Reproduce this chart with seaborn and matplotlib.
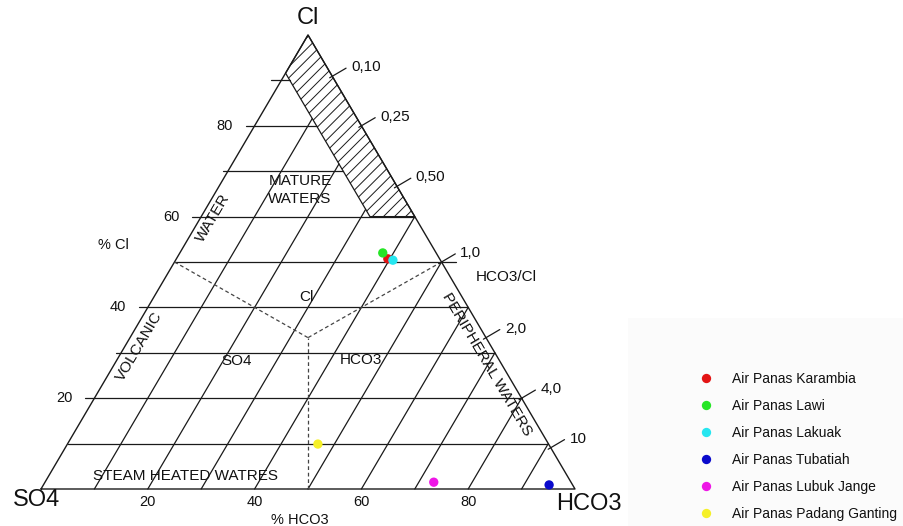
import matplotlib
matplotlib.use('Agg')
import matplotlib.pyplot as plt
from matplotlib.patches import Polygon, Rectangle
import numpy as np
import pandas as pd
import seaborn as sns

# hot springs, composition in % (Cl, SO4, HCO3)
springs = ['Air Panas Karambia', 'Air Panas Lawi', 'Air Panas Lakuak',
           'Air Panas Tubatiah', 'Air Panas Lubuk Jange', 'Air Panas Padang Ganting']
cl_pct = [50.7, 52.0, 50.4, 0.9, 1.5, 9.9]
so4_pct = [9.7, 10.0, 8.9, 4.4, 25.7, 43.2]
hco3_pct = [39.6, 38.0, 40.7, 94.7, 72.8, 46.9]
spring_colors = ['#e31414', '#26e626', '#26e6f0', '#0a0acc', '#ee16e6', '#f5f028']

grid_pct = [10, 20, 30, 40, 50, 60, 70, 80, 90]
axis_ticks = [20, 40, 60, 80]
ratio_values = [0.10, 0.25, 0.50, 1.0, 2.0, 4.0, 10.0]
ratio_labels = ['0,10', '0,25', '0,50', '1,0', '2,0', '4,0', '10']

PX_X = 534.0   # pixels per unit in x
PX_Y = 454.0   # pixels per unit in y
S_MATURE = 0.084  # SO4 fraction bounding the hatched band

LC = '#1a1a1a'
LW = 0.9


def to_xy(cl, hco3):
    cl = np.asarray(cl, dtype=float)
    hco3 = np.asarray(hco3, dtype=float)
    return hco3 + cl / 2.0, cl


sns.set_style('white')
plt.rcParams['font.family'] = ['Liberation Sans', 'DejaVu Sans']
plt.rcParams['text.color'] = '#111111'
plt.rcParams['hatch.linewidth'] = 0.7

fig = plt.figure(figsize=(9.04, 5.26), dpi=100)
ax = fig.add_axes([0, 0, 1, 1])
ax.set_xlim(-41 / PX_X, (904 - 41) / PX_X)
ax.set_ylim(-37 / PX_Y, (526 - 37) / PX_Y)
ax.axis('off')

# faint backdrop behind the legend (pasted panel in the original)
fig.patches.append(Rectangle((628 / 904, 0), 276 / 904, 208 / 526, transform=fig.transFigure,
                             facecolor='#fbfbfb', edgecolor='none', zorder=-1))

# triangle
tx, ty = to_xy([0, 0, 1, 0], [0, 1, 0, 0])
ax.plot(tx, ty, color=LC, lw=1.0)

# grid
tick_ext = {20: 9, 40: 9, 60: 9, 80: 9, 30: 5, 70: 5, 90: 10}
for p in grid_pct:
    f = p / 100
    # constant Cl
    h_end = 1 - f if f <= 0.6 else 1 - f - S_MATURE
    x0, _ = to_xy(f, 0)
    x1, _ = to_xy(f, h_end)
    if p == 50:
        x1 = x1 + 15 / PX_X
    ax.plot([x0 - tick_ext.get(p, 0) / PX_X, x1], [f, f], color=LC, lw=LW)
    # constant HCO3
    c_top = 1 - f - S_MATURE if 1 - f - S_MATURE >= 0.6 else 1 - f
    lx, ly = to_xy([0, c_top], [f, f])
    ax.plot(lx, ly, color=LC, lw=LW)

# hatched mature-water band
hx, hy = to_xy([1, 1 - S_MATURE, 0.6, 0.6], [0, 0, 0.4 - S_MATURE, 0.4])
ax.add_patch(Polygon(np.column_stack([hx, hy]), closed=True, fill=False,
                     hatch='///', edgecolor=LC, lw=LW))

# dashed field boundaries
cx, cy = to_xy(1 / 3, 1 / 3)
for c_a, h_a in [(0.5, 0.0), (0.5, 0.5), (0.0, 0.5)]:
    ax_, ay_ = to_xy(c_a, h_a)
    ax.plot([ax_, cx], [ay_, cy], color='#444444', lw=0.9, dashes=(3, 2.2))

# left axis labels
for t in axis_ticks:
    x0, y0 = to_xy(t / 100, 0)
    ax.text(x0 - 22 / PX_X, y0, str(t), ha='right', va='center', fontsize=10.5)
# bottom axis labels
for t in axis_ticks:
    x0, y0 = to_xy(0, t / 100)
    ax.text(x0, y0 - 6 / PX_Y, str(t), ha='center', va='top', fontsize=10.5)

# HCO3/Cl ratio ticks on the right edge
n = np.hypot(454, 267)
dx, dy = 454 / n, 267 / n
for r, lab in zip(ratio_values, ratio_labels):
    ex, ey = to_xy(1 / (1 + r), r / (1 + r))
    ax.plot([ex - 3 * dx / PX_X, ex + 16 * dx / PX_X], [ey - 3 * dy / PX_Y, ey + 16 * dy / PX_Y],
            color=LC, lw=LW)
    ax.text(ex + (16 * dx + 5) / PX_X, ey + (16 * dy + 1) / PX_Y, lab,
            ha='left', va='center', fontsize=11)

# vertex and field labels
ax.text(0.5, 1.037, 'Cl', ha='center', va='center', fontsize=17)
ax.text(-0.009, -0.025, 'SO4', ha='center', va='center', fontsize=17)
ax.text(1.026, -0.033, 'HCO3', ha='center', va='center', fontsize=17)
ax.text(0.135, 0.537, '% Cl', ha='center', va='center', fontsize=10.5)
ax.text(0.485, -0.068, '% HCO3', ha='center', va='center', fontsize=10.5)
ax.text(0.485, 0.659, 'MATURE\nWATERS', ha='center', va='center', fontsize=11, linespacing=1.35)
ax.text(0.322, 0.597, 'WATER', ha='center', va='center', fontsize=11, rotation=59.5)
ax.text(0.1835, 0.313, 'VOLCANIC', ha='center', va='center', fontsize=11, rotation=59.5)
ax.text(0.498, 0.423, 'Cl', ha='center', va='center', fontsize=11)
ax.text(0.367, 0.282, 'SO4', ha='center', va='center', fontsize=11)
ax.text(0.599, 0.284, 'HCO3', ha='center', va='center', fontsize=11)
ax.text(0.835, 0.275, 'PERIPHERAL WATERS', ha='center', va='center', fontsize=11, rotation=-59.5)
ax.text(0.871, 0.467, 'HCO3/Cl', ha='center', va='center', fontsize=11)
ax.text(0.097, 0.029, 'STEAM HEATED WATRES', ha='left', va='center', fontsize=11)

# samples
px, py = to_xy(np.array(cl_pct) / 100, np.array(hco3_pct) / 100)
df = pd.DataFrame({'x': px, 'y': py, 'spring': springs})
sns.scatterplot(data=df, x='x', y='y', hue='spring', hue_order=springs,
                palette=spring_colors, s=45, edgecolor='none', ax=ax, zorder=5)

old = ax.get_legend()
handles = old.legend_handles
labels = [t.get_text() for t in old.get_texts()]
old.remove()
ax.legend(handles, labels, loc='upper left', bbox_to_anchor=(0.760, 0.3165),
          bbox_transform=fig.transFigure, frameon=False, fontsize=10,
          handlelength=1, handletextpad=1.37, labelspacing=0.94, borderpad=0.4)

fig.savefig('out.png', dpi=100)
